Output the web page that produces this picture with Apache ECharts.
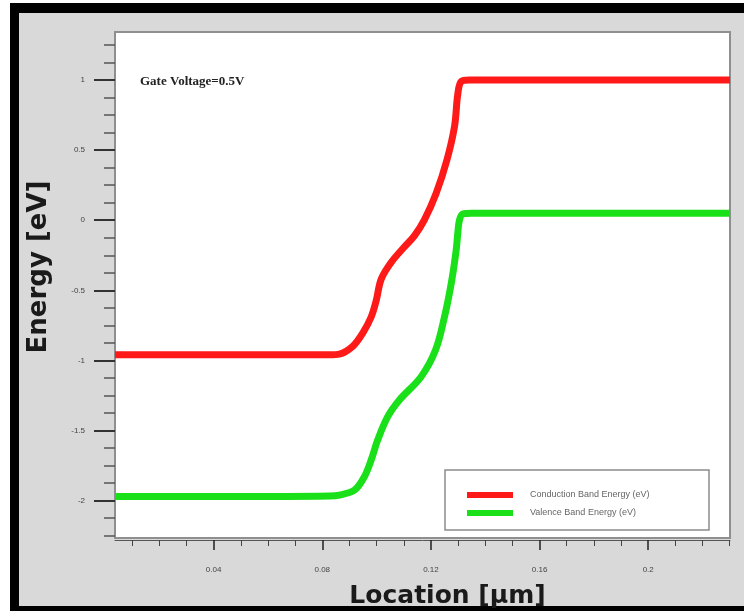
<!DOCTYPE html>
<html>
<head>
<meta charset="utf-8">
<script src="https://cdn.jsdelivr.net/npm/echarts@6/dist/echarts.min.js"></script>
<style>html,body{margin:0;padding:0;background:#fff}#c{width:744px;height:611px}</style>
</head>
<body>
<div id="c"></div>
<script>
// ---- data ----
const conductionBand = [
  [0.0037,-0.96],[0.02,-0.96],[0.04,-0.96],[0.06,-0.96],[0.0827,-0.96],[0.0863,-0.955],
  [0.0912,-0.90],[0.0949,-0.805],[0.0980,-0.69],[0.0999,-0.57],[0.1017,-0.42],[0.1054,-0.30],
  [0.1102,-0.191],[0.1139,-0.112],[0.1176,0.002],[0.1219,0.19],[0.1259,0.43],[0.1287,0.67],
  [0.1299,0.90],[0.1312,0.99],[0.1342,1.0],[0.16,1.0],[0.2,1.0],[0.2301,1.0]
];
const valenceBand = [
  [0.0037,-1.97],[0.02,-1.97],[0.04,-1.97],[0.06,-1.97],[0.0827,-1.967],[0.0863,-1.96],
  [0.0919,-1.924],[0.0955,-1.829],[0.0980,-1.71],[0.1004,-1.568],[0.1041,-1.401],[0.1084,-1.282],
  [0.1164,-1.116],[0.1217,-0.926],[0.1250,-0.688],[0.1275,-0.448],[0.1293,-0.213],[0.1299,-0.091],
  [0.1305,0.0],[0.1317,0.044],[0.1350,0.05],[0.16,0.05],[0.2,0.05],[0.2301,0.05]
];
const seriesNames = ['Conduction Band Energy (eV)', 'Valence Band Energy (eV)'];
const xMajorTicks = [0.04, 0.08, 0.12, 0.16, 0.2];
const xMinorTicks = [0.01,0.02,0.03,0.05,0.06,0.07,0.09,0.10,0.11,0.13,0.14,0.15,0.17,0.18,0.19,0.21,0.22,0.23];
const yMajorTicks = [-2, -1.5, -1, -0.5, 0, 0.5, 1];
const yMinorTicks = [-2.25,-2.125,-1.875,-1.75,-1.625,-1.375,-1.25,-1.125,-0.875,-0.75,-0.625,-0.375,-0.25,-0.125,
  0.125,0.25,0.375,0.625,0.75,0.875,1.125,1.25];
const xRange = [0.0037, 0.2301];
const yRange = [-2.266, 1.342];

const chart = echarts.init(document.getElementById('c'), null, {renderer: 'canvas'});
const lblFont = 'Liberation Sans, Arial, sans-serif';
const titleFont = 'DejaVu Sans, Verdana, sans-serif';

function fmt(v){ return String(Math.round(v*1000)/1000); }

const option = {
  animation: false,
  backgroundColor: '#ffffff',
  graphic: [
    {type:'rect', z:-10, silent:true, shape:{x:10,y:3,width:734,height:608}, style:{fill:'#000'}},
    {type:'rect', z:-9, silent:true, shape:{x:19,y:13,width:725,height:593}, style:{fill:'#d9d9d9'}},
    {type:'rect', z:1, silent:true, shape:{x:445,y:470,width:264,height:60}, style:{fill:'#fff', stroke:'#8c8c8c', lineWidth:1.5}},
    {type:'text', z:5, left:140, top:75, style:{text:'Gate Voltage=0.5V', font:'bold 13px "Liberation Serif", "Times New Roman", serif', fill:'#222'}}
  ],
  grid: {left:115, right:14, top:32, bottom:73, outerBoundsMode:'none', containLabel:false,
         show:true, backgroundColor:'#fff', borderColor:'#8f8f8f', borderWidth:2},
  legend: {
    left: 462, top: 484, orient:'vertical', itemWidth:46, itemHeight:6, itemGap:6, icon:'rect',
    textStyle:{fontSize:9, color:'#666', fontFamily:lblFont, padding:[0,0,0,12], lineHeight:12},
    data: seriesNames
  },
  xAxis: [
    {type:'value', min:xRange[0], max:xRange[1], position:'bottom', offset:2,
     name:'Location [µm]', nameLocation:'middle', nameGap:44,
     nameTextStyle:{fontSize:25, fontWeight:'bold', color:'#1a1a1a', fontFamily:titleFont, padding:[0,0,0,50]},
     axisLine:{show:true, onZero:false, lineStyle:{color:'#555', width:1}},
     axisTick:{show:true, customValues:xMajorTicks, length:10, lineStyle:{color:'#222', width:1.5}},
     axisLabel:{show:true, customValues:xMajorTicks, margin:26, fontSize:8, color:'#444', fontFamily:lblFont, formatter:fmt},
     splitLine:{show:false}},
    {type:'value', min:xRange[0], max:xRange[1], position:'bottom', offset:2,
     axisLine:{show:false, onZero:false},
     axisTick:{show:true, customValues:xMinorTicks, length:6, lineStyle:{color:'#444', width:1}},
     axisLabel:{show:false}, splitLine:{show:false}}
  ],
  yAxis: [
    {type:'value', min:yRange[0], max:yRange[1], position:'left',
     name:'Energy [eV]', nameLocation:'middle', nameGap:63,
     nameTextStyle:{fontSize:26, fontWeight:'bold', color:'#1a1a1a', fontFamily:titleFont, padding:[0,0,0,36]},
     axisLine:{show:false, onZero:false},
     axisTick:{show:true, customValues:yMajorTicks, length:21, lineStyle:{color:'#333', width:2}},
     axisLabel:{show:true, customValues:yMajorTicks, margin:30, fontSize:8, color:'#444', fontFamily:lblFont, formatter:fmt},
     splitLine:{show:false}},
    {type:'value', min:yRange[0], max:yRange[1], position:'left',
     axisLine:{show:false, onZero:false},
     axisTick:{show:true, customValues:yMinorTicks, length:11, lineStyle:{color:'#555', width:1.5}},
     axisLabel:{show:false}, splitLine:{show:false}}
  ],
  series: [
    {name:seriesNames[0], type:'line', xAxisIndex:0, yAxisIndex:0, data:conductionBand, showSymbol:false, symbol:'none',
     smooth:0.35, itemStyle:{color:'#ff1a1a'}, lineStyle:{color:'#ff1a1a', width:7}, z:3},
    {name:seriesNames[1], type:'line', xAxisIndex:0, yAxisIndex:0, data:valenceBand, showSymbol:false, symbol:'none',
     smooth:0.35, itemStyle:{color:'#19e019'}, lineStyle:{color:'#19e019', width:7}, z:3}
  ]
};
chart.setOption(option);
</script>
</body>
</html>
